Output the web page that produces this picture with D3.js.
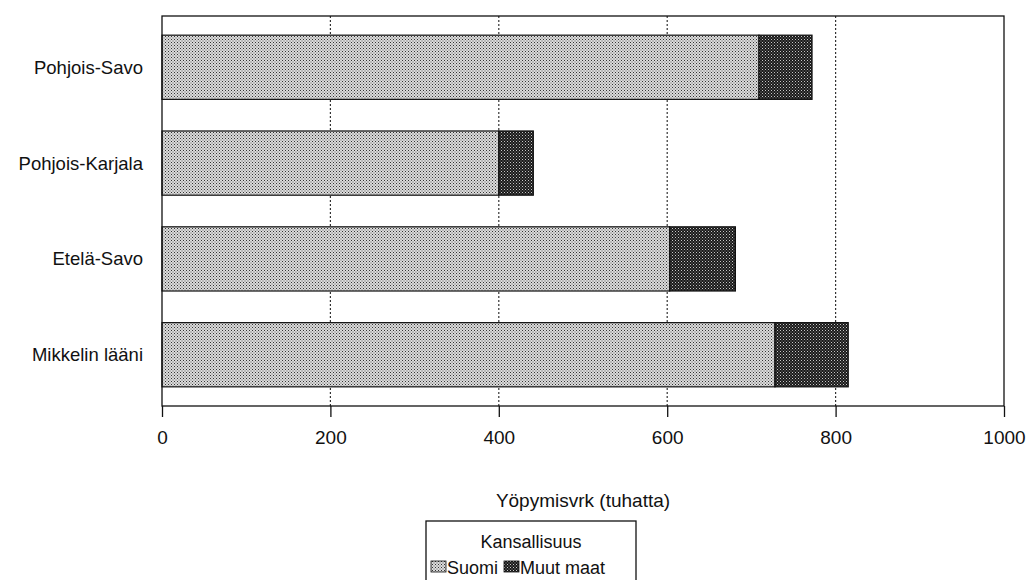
<!DOCTYPE html>
<html>
<head>
<meta charset="utf-8">
<script src="https://cdn.jsdelivr.net/npm/d3@7"></script>
<style>
  body { margin: 0; background: #fff; }
  svg { font-family: "Liberation Sans", Arial, sans-serif; }
</style>
</head>
<body>
<svg id="svg" width="1030" height="580"></svg>
<script>
const regions = ['Pohjois-Savo', 'Pohjois-Karjala', 'Etelä-Savo', 'Mikkelin lääni'];
const suomi = [709, 400, 603, 728];
const muutMaat = [63, 41, 78, 87];
const seriesNames = ['Suomi', 'Muut maat'];
const xTicks = [0, 200, 400, 600, 800, 1000];

const svg = d3.select('#svg');
const plot = {left: 162, right: 1004, top: 16, bottom: 406};

// patterns for the two series
const defs = svg.append('defs');
const p1 = defs.append('pattern').attr('id', 'patSuomi')
    .attr('width', 3).attr('height', 3).attr('patternUnits', 'userSpaceOnUse');
p1.append('rect').attr('width', 3).attr('height', 3).attr('fill', '#dcdcdc');
p1.append('rect').attr('x', 0).attr('y', 0).attr('width', 1).attr('height', 1).attr('fill', '#333');
p1.append('rect').attr('x', 1.5).attr('y', 1.5).attr('width', 1).attr('height', 1).attr('fill', '#555');

const p2 = defs.append('pattern').attr('id', 'patMuut')
    .attr('width', 3).attr('height', 3).attr('patternUnits', 'userSpaceOnUse');
p2.append('rect').attr('width', 3).attr('height', 3).attr('fill', '#1a1a1a');
p2.append('rect').attr('x', 0).attr('y', 0).attr('width', 1).attr('height', 1).attr('fill', '#c8c8c8');
p2.append('rect').attr('x', 1.5).attr('y', 1.5).attr('width', 1).attr('height', 1).attr('fill', '#999');

const fills = ['url(#patSuomi)', 'url(#patMuut)'];

const xScale = d3.scaleLinear().domain([0, 1000]).range([plot.left, plot.right]);
const yScale = d3.scaleBand().domain(regions)
    .range([plot.top, plot.bottom])
    .paddingInner(0.33).paddingOuter(0.2);

// grid lines
svg.append('g').selectAll('line')
    .data(xTicks.filter(d => d > 0 && d < 1000))
    .enter().append('line')
    .attr('x1', d => xScale(d)).attr('x2', d => xScale(d))
    .attr('y1', plot.top).attr('y2', plot.bottom)
    .attr('stroke', '#333').attr('stroke-width', 1.2)
    .attr('stroke-dasharray', '2,2');

// stacked bars
const rows = regions.map((r, i) => ({region: r, Suomi: suomi[i], 'Muut maat': muutMaat[i]}));
const stacked = d3.stack().keys(seriesNames)(rows);

svg.append('g').selectAll('g').data(stacked)
    .enter().append('g')
    .attr('fill', (d, i) => fills[i])
    .selectAll('rect').data(d => d)
    .enter().append('rect')
    .attr('x', d => xScale(d[0]))
    .attr('y', d => yScale(d.data.region))
    .attr('width', d => xScale(d[1]) - xScale(d[0]))
    .attr('height', yScale.bandwidth())
    .attr('stroke', '#111').attr('stroke-width', 1.2);

// plot frame
svg.append('rect')
    .attr('x', plot.left).attr('y', plot.top)
    .attr('width', plot.right - plot.left).attr('height', plot.bottom - plot.top)
    .attr('fill', 'none').attr('stroke', '#111').attr('stroke-width', 1.3);

// x axis
const xAxis = svg.append('g')
    .attr('transform', 'translate(0,' + plot.bottom + ')')
    .call(d3.axisBottom(xScale).tickValues(xTicks).tickSize(11).tickPadding(14).tickFormat(d3.format('d')));
xAxis.select('.domain').remove();
xAxis.selectAll('line').attr('stroke', '#111').attr('stroke-width', 1.3);
xAxis.selectAll('text').attr('font-size', 19).attr('fill', '#111')
    .attr('font-family', '"Liberation Sans", Arial, sans-serif');

// y labels
svg.append('g').selectAll('text').data(regions)
    .enter().append('text')
    .attr('x', 143)
    .attr('y', d => yScale(d) + yScale.bandwidth() / 2)
    .attr('dy', '0.35em')
    .attr('text-anchor', 'end')
    .attr('font-size', 18.5).attr('fill', '#111')
    .text(d => d);

// axis title
svg.append('text')
    .attr('x', 583).attr('y', 507)
    .attr('text-anchor', 'middle')
    .attr('font-size', 19).attr('fill', '#111')
    .text('Yöpymisvrk (tuhatta)');

// legend
const legend = svg.append('g');
legend.append('rect')
    .attr('x', 426).attr('y', 521).attr('width', 210).attr('height', 60)
    .attr('fill', 'none').attr('stroke', '#111').attr('stroke-width', 1.3);
legend.append('text')
    .attr('x', 531).attr('y', 548)
    .attr('text-anchor', 'middle').attr('font-size', 18).attr('fill', '#111')
    .text('Kansallisuus');
const legendX = [431, 504];
seriesNames.forEach((name, i) => {
    legend.append('rect')
        .attr('x', legendX[i]).attr('y', 561).attr('width', 15).attr('height', 11)
        .attr('fill', fills[i]).attr('stroke', '#111').attr('stroke-width', 0.8);
    legend.append('text')
        .attr('x', legendX[i] + 16).attr('y', 574)
        .attr('font-size', 18).attr('fill', '#111')
        .text(name);
});
</script>
</body>
</html>
